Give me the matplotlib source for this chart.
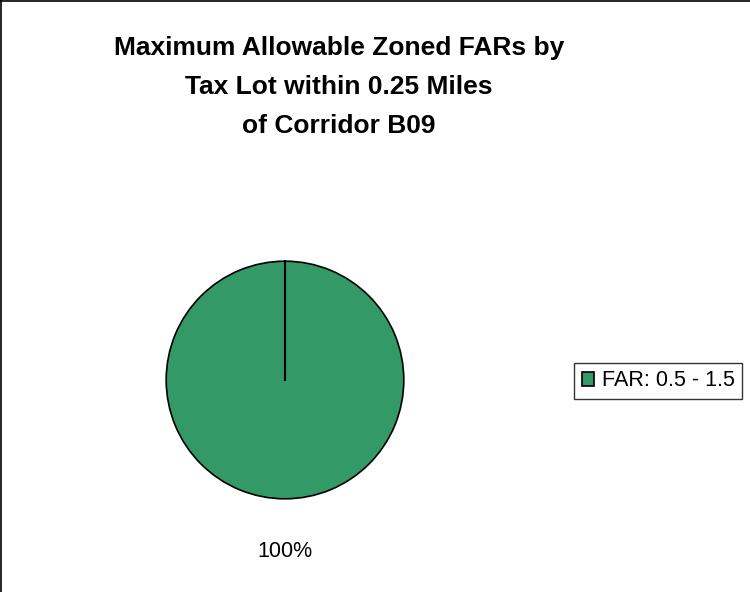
import matplotlib
matplotlib.use("Agg")
import numpy as np
from matplotlib import pyplot as plt
from matplotlib.lines import Line2D

plt.rcParams['font.family'] = ['Liberation Sans', 'DejaVu Sans']

# data
categories = ["FAR: 0.5 - 1.5"]
shares = [100]
colors = ["#339966"]

title = "Maximum Allowable Zoned FARs by\nTax Lot within 0.25 Miles\nof Corridor B09"
start = 90

fig = plt.figure(figsize=(7.5, 5.92), dpi=100)

# frame on left and top (chart area border)
fig.add_artist(Line2D([0.0015, 0.0015], [0, 1], transform=fig.transFigure, color="black", lw=1.2))
fig.add_artist(Line2D([0, 1], [0.998, 0.998], transform=fig.transFigure, color="black", lw=1.2))

fig.text(0.452, 0.94, title, ha="center", va="top", fontsize=19,
         fontweight="bold", linespacing=1.8)

# pie axes
ax = fig.add_axes([165 / 750, (592 - 500) / 592, 240 / 750, 240 / 592])
wedges, texts, autotexts = ax.pie(
    shares, colors=colors, startangle=start, counterclock=False,
    autopct="%1.0f%%", pctdistance=1.44,
    wedgeprops=dict(edgecolor="black", linewidth=1.2),
    textprops=dict(fontsize=15.5), radius=1)
# boundary line of the full slice (center to start angle)
ax.plot([0, np.cos(np.radians(start))], [0, np.sin(np.radians(start))],
        color="black", lw=1.5)
ax.set_xlim(-1.01, 1.01)
ax.set_ylim(-1.01, 1.01)
ax.set_aspect("equal")
ax.axis("off")

fig.legend(wedges, categories, loc="center left",
           bbox_to_anchor=(574 / 750, 1 - 381 / 592), fontsize=15.5,
           frameon=True, fancybox=False, edgecolor="black",
           handlelength=0.6, handleheight=0.6, handletextpad=0.35,
           borderpad=0.35, borderaxespad=0)
fig.legends[0].get_frame().set_linewidth(1.0)

fig.savefig("out.png", dpi=100)
